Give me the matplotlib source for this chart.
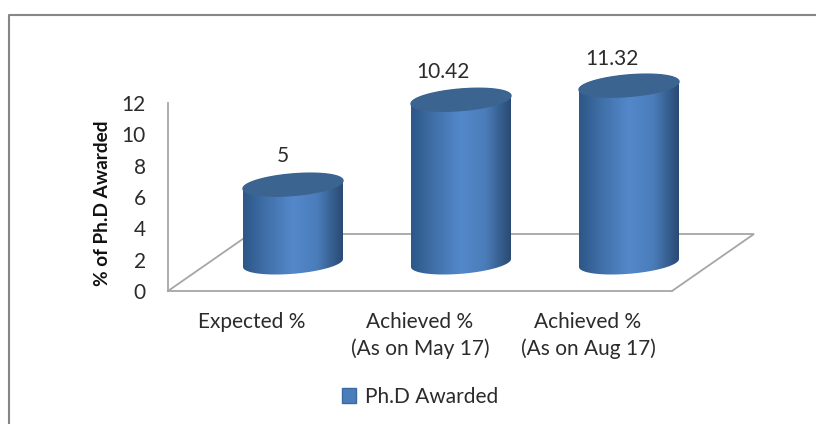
import numpy as np
import matplotlib
matplotlib.use("Agg")
from matplotlib import pyplot as plt
from matplotlib.patches import Patch, PathPatch
from matplotlib.path import Path
from matplotlib.lines import Line2D
from matplotlib.colors import LinearSegmentedColormap

categories = ["Expected %", "Achieved %\n(As on May 17)", "Achieved %\n(As on Aug 17)"]
values = [5, 10.42, 11.32]
yticks = [0, 2, 4, 6, 8, 10, 12]
series_name = "Ph.D Awarded"
ylabel = "% of Ph.D Awarded"

W, H = 816, 424
plt.rcParams["font.family"] = ["Lato", "DejaVu Sans"]
GREY = "#a6a6a6"
TEXT = "#2b2b2b"

fig = plt.figure(figsize=(W / 100, H / 100), dpi=100)
# plot box in pixels: x 168..672, y 103..291
ax = fig.add_axes([168 / W, 1 - 291 / H, 504 / W, 188 / H])
ax.set_xlim(-0.5, 2.5)
ax.set_ylim(0, 12)
px = 3 / 504       # one pixel in x units
py = 12 / 188      # one pixel in y units

# floor of the 3d chart
dx, dy = 82 * px, 57 * py
ax.plot([-0.5, -0.5 + dx, 2.5 + dx, 2.5], [0, dy, dy, 0], color=GREY, lw=1.3,
        clip_on=False, zorder=1, solid_joinstyle="miter")

cmap = LinearSegmentedColormap.from_list("cyl", ["#2c5787", "#4272ab", "#5388cb", "#4a7cb8", "#294a73"])
grad = np.linspace(0, 1, 256).reshape(1, -1)
t = np.linspace(0, 2 * np.pi, 121)
hw = 50 * px
tilt, ry = 4 * py, 10.8 * py
label_off = [(-7, 21), (-13, 20), (-12, 19)]  # the labels do not sit the same on each bar

for i, v in enumerate(values):
    cx = i + dx / 2
    y0 = dy / 2 - 0.5 * py
    y1 = y0 + v
    # body: top half of the upper ellipse, then front half of the lower one
    a = np.linspace(np.pi, 0, 60)
    a2 = np.linspace(0, -np.pi, 60)
    xs = np.r_[cx + hw * np.cos(a), cx + hw * np.cos(a2)]
    ys = np.r_[y1 + tilt * np.cos(a) + ry * np.sin(a), y0 + tilt * np.cos(a2) + ry * np.sin(a2)]
    body = PathPatch(Path(np.column_stack([xs, ys])), transform=ax.transData, fc="none", ec="none")
    ax.add_patch(body)
    im = ax.imshow(grad, cmap=cmap, aspect="auto", zorder=2,
                   extent=[cx - hw, cx + hw, y0 - 2, y1 + 2])
    im.set_clip_box(fig.bbox)
    im.set_clip_path(body)
    ax.fill(cx + hw * np.cos(t), y1 + tilt * np.cos(t) + ry * np.sin(t),
            color="#3c6491", zorder=3, clip_on=False)
    ax.annotate(str(v), (cx, y1), xytext=label_off[i], textcoords="offset points",
                ha="center", va="center", fontsize=15, color=TEXT, annotation_clip=False)

ax.set_xlim(-0.5, 2.5)
ax.set_ylim(0, 12)
ax.patch.set_visible(False)
for s in ["top", "right"]:
    ax.spines[s].set_visible(False)
for s in ["left", "bottom"]:
    ax.spines[s].set_color(GREY)
    ax.spines[s].set_linewidth(1.3)
ax.set_yticks(yticks)
ax.set_xticks(range(3))
ax.set_xticklabels(categories, linespacing=1.4)
ax.tick_params(axis="y", length=0, pad=16, labelsize=15, labelcolor=TEXT)
ax.tick_params(axis="x", length=0, pad=15, labelsize=15, labelcolor=TEXT)
ax.set_ylabel(ylabel, fontsize=13.7, fontweight="bold", color="#111111", labelpad=7.5, y=0.468)

leg = fig.legend(handles=[Patch(fc="#4a7ebb", ec="#3a6a9f", label=series_name)],
                 loc="center", bbox_to_anchor=(420 / W, 1 - 397 / H), frameon=False,
                 fontsize=15, labelcolor=TEXT, handlelength=0.7, handleheight=0.7,
                 handletextpad=0.4)

# outer chart frame, only left and top show in the picture
fig.add_artist(Line2D([9 / W, 9 / W, 1], [0, 1 - 15 / H, 1 - 15 / H], color="#868686", lw=1.5))

fig.savefig("out.png", dpi=100)
